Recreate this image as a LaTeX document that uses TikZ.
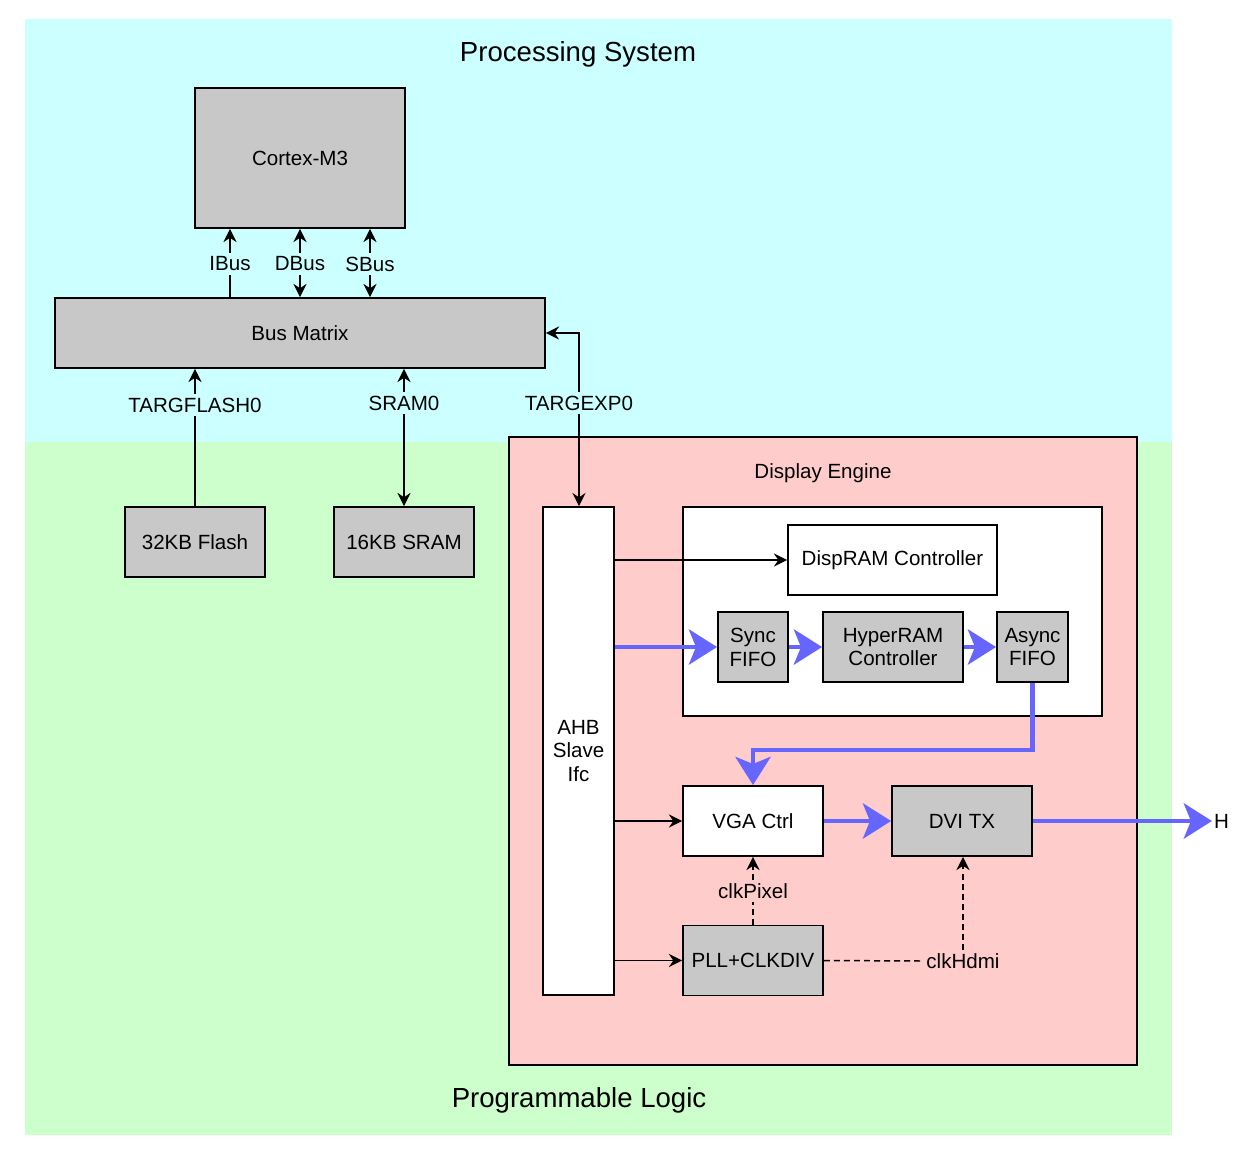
\documentclass[tikz,border=0pt]{standalone}
\usepackage{fontspec}
\setmainfont{Liberation Sans}
\usetikzlibrary{arrows.meta}

\definecolor{psbg}{HTML}{CCFFFF}
\definecolor{plbg}{HTML}{CCFFCC}
\definecolor{debg}{HTML}{FFCCCC}
\definecolor{blockgray}{HTML}{C8C8C8}
\definecolor{streamblue}{HTML}{6666FF}

\begin{document}
\begin{tikzpicture}[x=0.02cm, y=-0.02cm,
		font=\fontsize{11.7}{13.6}\selectfont,
		block/.style={draw, line width=1.1pt, fill=blockgray, align=center, inner sep=0pt},
		wblock/.style={block, fill=white},
		lbl/.style={inner sep=2pt},
		wire/.style={line width=0.85pt},
		arr/.style={wire, -{Stealth[length=7.5pt, width=7.5pt, inset=2.5pt]}},
		clk/.style={dash pattern=on 3.4pt off 2.3pt},
		stream/.style={line width=2.8pt, draw=streamblue, -{Stealth[length=16pt, width=20pt, inset=4pt]}}]
		\useasboundingbox[fill=white] (0, 0) rectangle (1244, 1164);

		% regions
		\fill[psbg] (25, 19) rectangle (1172, 442);
		\fill[plbg] (25, 442) rectangle (1172, 1135);
		\draw[line width=1.1pt, fill=debg] (509, 437) rectangle (1137, 1065);
		\draw[line width=1.1pt, fill=white] (683, 507) rectangle (1102, 716);

		\node (pstitle) at (578, 54) {\fontsize{15.7}{18}\selectfont Processing System};
		\node (pltitle) at (579, 1100) {\fontsize{15.7}{18}\selectfont Programmable Logic};
		\node (detitle) at (823, 473) {Display Engine};

		% blocks
		\node[block, minimum width=4.2cm, minimum height=2.8cm] (cpu) at (300, 158) {Cortex-M3};
		\node[block, minimum width=9.8cm, minimum height=1.4cm] (bus) at (300, 333) {Bus Matrix};
		\node[block, minimum width=2.8cm, minimum height=1.4cm] (flash) at (195, 542) {32KB Flash};
		\node[block, minimum width=2.8cm, minimum height=1.4cm] (sram) at (404, 542) {16KB SRAM};

		\node[wblock, minimum width=1.42cm, minimum height=9.76cm] (ahb) at (578.5, 751) {AHB\\Slave\\Ifc};
		\node[wblock, minimum width=4.18cm, minimum height=1.4cm] (disp) at (892.5, 560) {DispRAM Controller};
		\node[block, minimum width=1.4cm, minimum height=1.4cm] (sync) at (753, 647) {Sync\\FIFO};
		\node[block, minimum width=2.8cm, minimum height=1.4cm] (hyper) at (893, 647) {HyperRAM\\Controller};
		\node[block, minimum width=1.42cm, minimum height=1.4cm] (async) at (1032.5, 647) {Async\\FIFO};
		\node[wblock, minimum width=2.8cm, minimum height=1.4cm] (vga) at (753, 821) {VGA Ctrl};
		\node[block, minimum width=2.8cm, minimum height=1.4cm] (dvi) at (962, 821) {DVI TX};
		\node[block, minimum width=2.8cm, minimum height=1.4cm] (pll) at (753, 960.5) {PLL+CLKDIV};

		% bus labels
		\node[lbl] (ibus) at (230, 264) {IBus};
		\node[lbl] (dbus) at (300, 264) {DBus};
		\node[lbl] (sbus) at (370, 264) {SBus};
		\node[lbl] (tflash) at (195, 405) {TARGFLASH0};
		\node[lbl] (tsram) at (404, 403) {SRAM0};
		\node[lbl] (texp) at (579, 403) {TARGEXP0};
		\node[lbl] (clkpix) at (753, 891) {clkPixel};
		\node[lbl] (clkhdmi) at (963, 961) {clkHdmi};
		\node[anchor=west, inner sep=1pt] (hdmi) at (1212, 821) {H};

		% system bus
		\draw[arr] (ibus) -- (ibus |- cpu.south);
		\draw[wire] (ibus) -- (ibus |- bus.north);
		\draw[arr] (dbus) -- (dbus |- cpu.south);
		\draw[arr] (dbus) -- (dbus |- bus.north);
		\draw[arr] (sbus) -- (sbus |- cpu.south);
		\draw[arr] (sbus) -- (sbus |- bus.north);
		\draw[arr] (tflash) -- (tflash |- bus.south);
		\draw[wire] (tflash) -- (flash.north);
		\draw[arr] (tsram) -- (tsram |- bus.south);
		\draw[arr] (tsram) -- (sram.north);
		\draw[arr] (texp) |- (bus.east);
		\draw[arr] (texp) -- (texp |- ahb.north);

		% display engine
		\draw[arr] (ahb.east |- disp.west) -- (disp.west);
		\draw[arr] (ahb.east |- vga.west) -- (vga.west);
		\draw[arr] (ahb.east |- pll.west) -- (pll.west);
		\draw[stream] (ahb.east |- sync.west) -- (sync.west);
		\draw[stream] (sync) -- (hyper);
		\draw[stream] (hyper) -- (async);
		\coordinate (bend) at (1032.5, 750);
		\draw[stream] (async.south) -- (bend) -| (vga.north);
		\draw[stream] (vga) -- (dvi);
		\draw[stream] (dvi) -- (hdmi.west);

		% clocks
		\draw[wire, clk] (pll.north) -- (clkpix.south);
		\draw[arr, clk] (clkpix.north) -- (vga.south);
		\draw[wire, clk] (pll.east) -- (clkhdmi.west);
		\draw[arr, clk] (clkhdmi.north) -- (clkhdmi |- dvi.south);
	\end{tikzpicture}
\end{document}
